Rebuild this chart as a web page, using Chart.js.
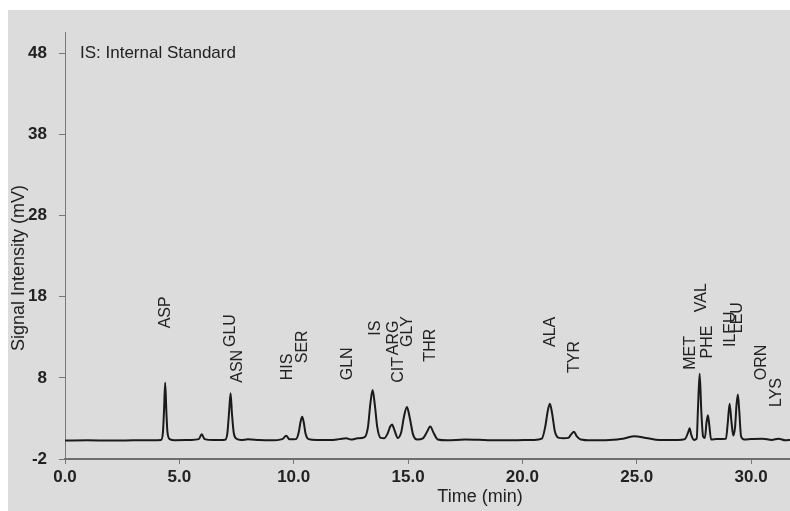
<!DOCTYPE html>
<html>
<head>
<meta charset="utf-8">
<title>Amino acid chromatogram</title>
<script src="https://cdn.jsdelivr.net/npm/chart.js@4.4.1/dist/chart.umd.min.js"></script>
<style>
  html, body { margin: 0; padding: 0; background: #fff; }
  #wrap { position: absolute; left: 8px; top: 10px; width: 782px; height: 501px; background: #dcdcdc; }
</style>
</head>
<body>
<div id="wrap"><canvas id="chroma"></canvas></div>
<script>
// ---- data ----
const timeMin = [
  0.0, 1.0, 2.0, 3.0, 3.8, 4.2, 4.28, 4.33, 4.38, 4.43, 4.48, 4.58, 4.8,
  5.5, 5.85, 5.98, 6.1, 6.5, 7.0, 7.1, 7.18, 7.24, 7.3, 7.38, 7.5, 7.7,
  8.0, 8.5, 9.0, 9.5, 9.67, 9.82, 10.1, 10.22, 10.3, 10.37, 10.44, 10.52, 10.65,
  11.0, 11.6, 12.0, 12.3, 12.5, 12.8, 13.1, 13.25, 13.35, 13.45, 13.55, 13.65, 13.8,
  13.95, 14.1, 14.22, 14.3, 14.4, 14.55, 14.7, 14.82, 14.95, 15.08, 15.22, 15.4,
  15.65, 15.82, 15.97, 16.12, 16.3, 16.7, 17.5, 18.5, 19.5, 20.5, 20.85, 21.0,
  21.1, 21.2, 21.3, 21.42, 21.6, 21.8, 22.0, 22.15, 22.25, 22.38, 22.55, 23.0,
  23.8, 24.4, 24.9, 25.4, 26.0, 26.8, 27.1, 27.25, 27.31, 27.38, 27.5, 27.62,
  27.68, 27.75, 27.82, 27.9, 27.98, 28.05, 28.11, 28.17, 28.25, 28.5, 28.9, 28.98,
  29.06, 29.14, 29.22, 29.3, 29.36, 29.42, 29.48, 29.56, 29.7, 30.0, 30.5, 30.9,
  31.2, 31.5, 31.7
];
const signalMV = [
  0.28, 0.30, 0.27, 0.30, 0.32, 0.35, 1.2, 4.0, 7.4, 4.0, 1.3, 0.45, 0.32,
  0.35, 0.45, 1.05, 0.45, 0.33, 0.38, 1.2, 4.0, 6.1, 3.6, 1.2, 0.5, 0.35,
  0.42, 0.33, 0.30, 0.45, 0.85, 0.42, 0.45, 1.3, 2.6, 3.2, 2.5, 1.1, 0.45,
  0.35, 0.35, 0.45, 0.55, 0.40, 0.55, 0.70, 2.0, 4.8, 6.5, 4.6, 2.0, 0.6,
  0.55, 1.1, 2.0, 2.25, 1.6, 0.6, 1.3, 3.2, 4.4, 3.0, 1.0, 0.4,
  0.55, 1.3, 2.0, 1.2, 0.4, 0.30, 0.40, 0.32, 0.30, 0.35, 0.5, 2.0,
  3.8, 4.8, 3.6, 1.4, 0.6, 0.55, 0.6, 1.1, 1.35, 0.8, 0.4, 0.30,
  0.35, 0.5, 0.8, 0.6, 0.35, 0.35, 0.45, 1.3, 1.8, 1.0, 0.35, 0.5,
  4.5, 8.5, 4.0, 0.8, 0.6, 2.5, 3.4, 2.2, 0.4, 0.45, 0.5, 2.5,
  4.8, 2.6, 0.9, 2.0, 4.6, 5.95, 4.0, 0.8, 0.4, 0.45, 0.5, 0.35,
  0.5, 0.3, 0.35
];
const peakNames = ['ASP', 'GLU', 'ASN', 'HIS', 'SER', 'GLN', 'IS', 'ARG', 'CIT', 'GLY',
  'THR', 'ALA', 'TYR', 'MET', 'VAL', 'PHE', 'ILEU', 'LEU', 'ORN', 'LYS'];
const peakTimes = [4.41, 7.24, 7.55, 9.72, 10.38, 12.34, 13.57, 14.35, 14.57, 14.96,
  15.97, 21.24, 22.29, 27.36, 27.84, 28.1, 29.1, 29.41, 30.45, 31.11];
const xTickValues = [0, 5, 10, 15, 20, 25, 30];
const yTickValues = [-2, 8, 18, 28, 38, 48];

// where each rotated label starts (signal units), layout only
const labelBase = [14.1, 11.8, 7.4, 7.7, 9.8, 7.7, 13.2, 10.8, 7.4, 11.8,
  10.0, 11.8, 8.6, 9.0, 16.1, 10.4, 11.8, 13.5, 7.7, 4.4];

const FONT = '"Liberation Sans", Arial, sans-serif';
const INK = '#222';

const points = timeMin.map((t, i) => ({ x: t, y: signalMV[i] }));

const overlayText = {
  id: 'overlayText',
  afterDraw(chart) {
    const { ctx, scales: { x, y } } = chart;
    ctx.save();
    ctx.fillStyle = INK;

    // peak names, rotated
    ctx.font = '16px ' + FONT;
    ctx.textAlign = 'left';
    ctx.textBaseline = 'middle';
    peakNames.forEach((name, i) => {
      ctx.save();
      ctx.translate(x.getPixelForValue(peakTimes[i]), y.getPixelForValue(labelBase[i]));
      ctx.rotate(-Math.PI / 2);
      ctx.fillText(name, 0, 0);
      ctx.restore();
    });

    // note top-left
    ctx.font = '17px ' + FONT;
    ctx.fillText('IS: Internal Standard', 72, 43);

    // axis titles
    ctx.font = '18px ' + FONT;
    ctx.textAlign = 'center';
    ctx.fillText('Time (min)', 472, 487);
    ctx.save();
    ctx.translate(11, 258);
    ctx.rotate(-Math.PI / 2);
    ctx.fillText('Signal Intensity (mV)', 0, 0);
    ctx.restore();

    ctx.restore();
  }
};

new Chart(document.getElementById('chroma'), {
  type: 'line',
  data: {
    datasets: [{
      data: points,
      borderColor: '#1a1a1a',
      borderWidth: 2,
      pointRadius: 0,
      fill: false,
      cubicInterpolationMode: 'monotone'
    }]
  },
  options: {
    responsive: true, maintainAspectRatio: false, animation: false,
    layout: { padding: { top: 22, right: 0, left: 0, bottom: 0 } },
    plugins: { legend: { display: false }, tooltip: { enabled: false } },
    scales: {
      x: {
        type: 'linear', min: 0, max: 31.7,
        afterBuildTicks: s => { s.ticks = xTickValues.map(v => ({ value: v })); },
        afterFit: s => { s.height = 52; },
        border: { display: true, color: '#6e6e6e', width: 2 },
        grid: { display: true, drawOnChartArea: false, tickLength: 5, color: '#777' },
        ticks: { color: INK, font: { family: FONT, size: 17, weight: 'bold' }, padding: 3, maxRotation: 0,
                 callback: v => Number(v).toFixed(1) }
      },
      y: {
        type: 'linear', min: -2, max: 50.6,
        afterBuildTicks: s => { s.ticks = yTickValues.map(v => ({ value: v })); },
        afterFit: s => { s.width = 57; },
        border: { display: true, color: '#7a7a7a', width: 1 },
        grid: { display: true, drawOnChartArea: false, tickLength: 6, color: '#777' },
        ticks: { color: INK, font: { family: FONT, size: 17, weight: 'bold' }, padding: 12,
                 callback: v => String(v) }
      }
    }
  },
  plugins: [overlayText]
});
</script>
</body>
</html>
